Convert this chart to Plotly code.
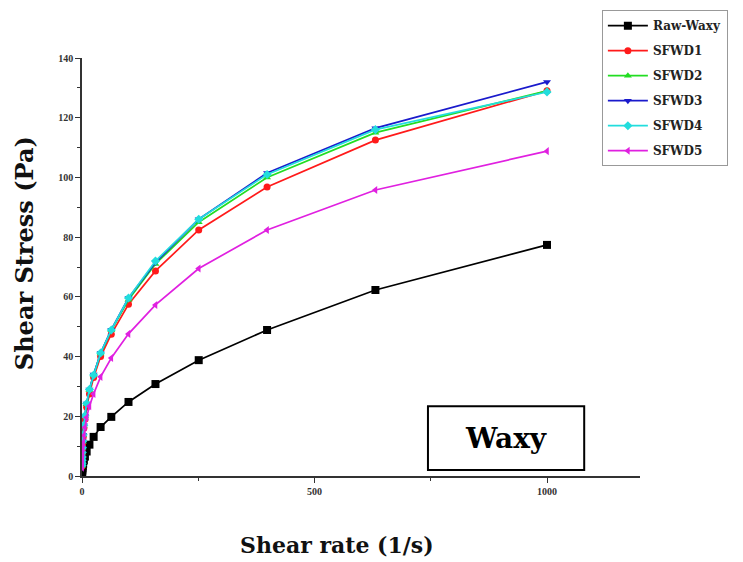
import plotly.graph_objects as go

shear_rate = [0.1, 0.16, 0.25, 0.4, 0.63, 1, 1.6, 2.5, 4, 6.3, 10, 16, 25, 40, 63, 100, 158, 251, 398, 631, 1000]

raw_waxy = [0.8, 1.0, 1.3, 1.6, 2.1, 2.6, 3.3, 4.1, 5.2, 6.5, 8.2, 10.5, 13.1, 16.4, 19.8, 24.8, 30.8, 38.8, 48.9, 62.3, 77.4]
sfwd1 = [3.3, 4.0, 5.0, 6.0, 7.5, 9.0, 11.0, 13.0, 16.0, 19.0, 23.0, 27.5, 33.0, 40.0, 47.5, 57.5, 68.7, 82.4, 96.8, 112.5, 129.0]
sfwd2 = [3.4, 4.2, 5.2, 6.3, 7.8, 9.4, 11.5, 13.7, 16.8, 20.0, 24.0, 28.8, 33.8, 41.0, 48.8, 59.0, 71.0, 85.0, 100.0, 115.0, 129.0]
sfwd3 = [3.5, 4.3, 5.3, 6.4, 7.9, 9.5, 11.6, 13.8, 17.0, 20.2, 24.3, 29.0, 34.0, 41.2, 49.0, 59.6, 71.5, 86.0, 101.5, 116.5, 132.0]
sfwd4 = [3.5, 4.3, 5.3, 6.4, 7.9, 9.5, 11.6, 13.8, 17.0, 20.2, 24.3, 29.0, 33.8, 41.2, 48.9, 59.6, 72.0, 86.0, 101.0, 116.0, 128.6]
sfwd5 = [2.8, 3.4, 4.2, 5.1, 6.3, 7.6, 9.3, 11.1, 13.6, 16.3, 19.6, 23.4, 27.5, 33.2, 39.5, 47.6, 57.3, 69.5, 82.4, 95.8, 108.8]

names = ["Raw-Waxy", "SFWD1", "SFWD2", "SFWD3", "SFWD4", "SFWD5"]
series = [raw_waxy, sfwd1, sfwd2, sfwd3, sfwd4, sfwd5]
colors = ["#000000", "#ff1a1a", "#22dd22", "#1a1acc", "#22dddd", "#e020e0"]
symbols = ["square", "circle", "triangle-up", "triangle-down", "diamond", "triangle-left"]

FONT = "Liberation Serif"
TFONT = "DejaVu Serif"

fig = go.Figure()
for n, s, c, m in zip(names, series, colors, symbols):
    fig.add_trace(go.Scatter(
        x=shear_rate, y=s, name=n, mode="lines+markers", legendgroup=n,
        line=dict(color=c, width=1.7),
        marker=dict(symbol=m, size=8 if m == "square" else 7, color=c),
    ))

fig.add_shape(type="rect", xref="x", yref="y", x0=744, x1=1080, y0=2.0, y1=23.4,
              line=dict(color="black", width=2), fillcolor="white", layer="above")
fig.add_annotation(x=912, y=12.7, xref="x", yref="y", text="Waxy", showarrow=False,
                   font=dict(family=TFONT, size=28, color="black", weight="bold"))

# axis titles
fig.add_annotation(x=0.457, y=-0.165, xref="paper", yref="paper", text="Shear rate (1/s)",
                   showarrow=False, xanchor="center", yanchor="middle",
                   font=dict(family=TFONT, size=22, color="#111111", weight="bold"))
fig.add_annotation(x=-0.104, y=0.533, xref="paper", yref="paper", text="Shear Stress (Pa)",
                   showarrow=False, xanchor="center", yanchor="middle", textangle=-90,
                   font=dict(family=TFONT, size=24, color="#111111", weight="bold"))

fig.update_layout(
    width=735, height=554,
    margin=dict(l=74, r=103, t=50, b=86, autoexpand=False),
    paper_bgcolor="white", plot_bgcolor="white",
    font=dict(family=FONT, color="black", weight="bold"),
    showlegend=True,
    legend=dict(
        xref="container", yref="container",
        x=0.808, y=0.996, xanchor="left", yanchor="top",
        bordercolor="#999999", borderwidth=1, bgcolor="white",
        font=dict(family=TFONT, size=12, color="#222222", weight="bold"),
        itemwidth=40, tracegroupgap=6,
    ),
    xaxis=dict(
        range=[0, 1200], tickvals=[0, 500, 1000], ticktext=["0", "500", "1000"],
        showgrid=False, zeroline=False, showline=True, linecolor="#333333", linewidth=1.5,
        ticks="outside", ticklen=5, tickcolor="#333333",
        minor=dict(tickvals=[250, 750], ticks="outside", ticklen=3, tickcolor="#333333"),
        tickfont=dict(family=FONT, size=10, color="#333333"),
    ),
    yaxis=dict(
        range=[0, 140], tickvals=[0, 20, 40, 60, 80, 100, 120, 140],
        showgrid=False, zeroline=False, showline=True, linecolor="#333333", linewidth=1.5,
        ticks="outside", ticklen=5, tickcolor="#333333",
        minor=dict(tickvals=[10, 30, 50, 70, 90, 110, 130], ticks="outside", ticklen=3, tickcolor="#333333"),
        tickfont=dict(family=FONT, size=10, color="#333333"),
    ),
)

fig.write_html("out.html")
